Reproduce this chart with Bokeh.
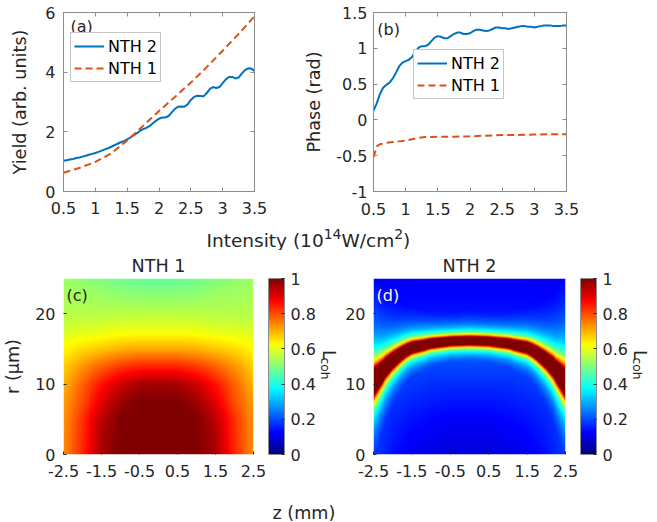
import numpy as np
from bokeh.plotting import figure
from bokeh.layouts import column, row
from bokeh.models import (Range1d, FixedTicker, LinearAxis, Legend, LegendItem, Label,
                          LinearColorMapper, ColorBar, Title)
from bokeh.core.properties import value
from bokeh.embed import file_html
from bokeh.resources import INLINE

FONT = "DejaVu Sans"
TXT = "#262626"
AX = "#8c8c8c"
BLUE = "#0072BD"
ORANGE = "#D95319"

# ---------------- data: panel (a) yield ----------------
A_X_NTH2 = [0.50, 0.55, 0.60, 0.65, 0.70, 0.75, 0.80, 0.85, 0.90, 0.95, 1.00, 1.05, 1.10, 1.15,
            1.20, 1.25, 1.30, 1.35, 1.40, 1.45, 1.50, 1.55, 1.60, 1.65, 1.70, 1.75, 1.80, 1.85,
            1.90, 1.95, 2.00, 2.05, 2.10, 2.15, 2.20, 2.25, 2.30, 2.35, 2.40, 2.45, 2.50, 2.55,
            2.60, 2.65, 2.70, 2.75, 2.80, 2.85, 2.90, 2.95, 3.00, 3.05, 3.10, 3.15, 3.20, 3.25,
            3.30, 3.35, 3.40, 3.45, 3.50]
A_Y_NTH2 = [1.03, 1.05, 1.07, 1.09, 1.12, 1.14, 1.17, 1.20, 1.23, 1.26, 1.29, 1.33, 1.37, 1.41,
            1.45, 1.50, 1.55, 1.60, 1.65, 1.69, 1.75, 1.81, 1.88, 1.95, 2.03, 2.09, 2.13, 2.19,
            2.28, 2.37, 2.44, 2.48, 2.48, 2.53, 2.65, 2.77, 2.84, 2.85, 2.84, 2.92, 3.07, 3.17,
            3.21, 3.20, 3.19, 3.30, 3.44, 3.50, 3.47, 3.50, 3.63, 3.76, 3.84, 3.84, 3.79, 3.82,
            3.95, 4.07, 4.13, 4.12, 4.04]
A_X_NTH1 = [0.5, 0.75, 1.0, 1.25, 1.5, 1.75, 2.0, 2.25, 2.5, 2.75, 3.0, 3.25, 3.5]
A_Y_NTH1 = [0.63, 0.79, 0.99, 1.28, 1.71, 2.20, 2.70, 3.17, 3.65, 4.17, 4.72, 5.28, 5.87]

# ---------------- data: panel (b) phase ----------------
B_X_NTH2 = A_X_NTH2
B_Y_NTH2 = [0.13, 0.23, 0.36, 0.45, 0.49, 0.52, 0.58, 0.66, 0.75, 0.80, 0.82, 0.84, 0.88, 0.95,
            1.01, 1.03, 1.03, 1.05, 1.10, 1.15, 1.17, 1.16, 1.14, 1.14, 1.17, 1.20, 1.22, 1.22,
            1.20, 1.20, 1.21, 1.24, 1.26, 1.26, 1.25, 1.24, 1.25, 1.27, 1.29, 1.29, 1.28, 1.28,
            1.27, 1.28, 1.29, 1.30, 1.31, 1.31, 1.30, 1.30, 1.29, 1.30, 1.31, 1.32, 1.32, 1.32,
            1.31, 1.31, 1.31, 1.32, 1.32]
B_X_NTH1 = [0.50, 0.55, 0.60, 0.70, 0.80, 0.90, 1.00, 1.10, 1.20, 1.30, 1.50, 1.75, 2.00, 2.25,
            2.50, 2.75, 3.00, 3.25, 3.50]
B_Y_NTH1 = [-0.52, -0.37, -0.34, -0.32, -0.31, -0.30, -0.29, -0.27, -0.25, -0.24, -0.235, -0.235,
            -0.23, -0.22, -0.21, -0.21, -0.205, -0.20, -0.20]

# ---------------- ticks ----------------
I_TICKS = [0.5, 1, 1.5, 2, 2.5, 3, 3.5]
I_LABELS = ["0.5", "1", "1.5", "2", "2.5", "3", "3.5"]
YIELD_TICKS = [0, 2, 4, 6]
YIELD_LABELS = ["0", "2", "4", "6"]
PHASE_TICKS = [-1, -0.5, 0, 0.5, 1, 1.5]
PHASE_LABELS = ["-1", "-0.5", "0", "0.5", "1", "1.5"]
Z_TICKS = [-2.5, -1.5, -0.5, 0.5, 1.5, 2.5]
Z_LABELS = ["-2.5", "-1.5", "-0.5", "0.5", "1.5", "2.5"]
R_TICKS = [0, 10, 20]
R_LABELS = ["0", "10", "20"]
CB_TICKS = [0, 0.2, 0.4, 0.6, 0.8, 1]
CB_LABELS = ["0", "0.2", "0.4", "0.6", "0.8", "1"]

# ---------------- data: maps (read on a grid, symmetric in z) ----------------
Z_ABS_NODES = [0.0, 0.5, 1.0, 1.5, 2.0, 2.5]
R_NODES = [0, 2.5, 5, 7.5, 10, 12.5, 15, 17.5, 20, 22.5, 25]
LCOH_NTH1 = [
    [1.00, 1.00, 1.00, 0.96, 0.84, 0.74],
    [1.00, 1.00, 1.00, 0.955, 0.835, 0.735],
    [1.00, 1.00, 1.00, 0.94, 0.83, 0.73],
    [1.00, 1.00, 0.97, 0.90, 0.80, 0.72],
    [0.965, 0.96, 0.92, 0.86, 0.78, 0.70],
    [0.84, 0.84, 0.82, 0.78, 0.73, 0.67],
    [0.71, 0.71, 0.70, 0.68, 0.66, 0.63],
    [0.61, 0.61, 0.61, 0.60, 0.595, 0.585],
    [0.56, 0.56, 0.56, 0.555, 0.555, 0.55],
    [0.515, 0.515, 0.52, 0.53, 0.535, 0.54],
    [0.47, 0.475, 0.485, 0.50, 0.515, 0.53],
]
# NTH 2: saturated band (centre and half thickness read vs |z|) over a low background
BAND_Z_ABS = [0.0, 0.5, 1.0, 1.5, 1.75, 2.0, 2.25, 2.5]
BAND_R = [16.2, 16.1, 15.8, 15.2, 14.5, 13.4, 12.0, 10.3]
BAND_HALF = [0.6, 0.6, 0.65, 0.78, 0.9, 1.1, 1.4, 1.9]
BG_R_NODES = [0, 5, 10, 15, 20, 25]
BG_NTH2 = [
    [0.09, 0.09, 0.10, 0.11, 0.14, 0.18],
    [0.12, 0.12, 0.13, 0.14, 0.16, 0.20],
    [0.17, 0.17, 0.17, 0.18, 0.19, 0.21],
    [0.22, 0.22, 0.22, 0.21, 0.18, 0.15],
    [0.14, 0.14, 0.14, 0.14, 0.13, 0.13],
    [0.12, 0.12, 0.12, 0.12, 0.12, 0.12],
]

NZ, NR = 201, 176
zs = np.linspace(-2.5, 2.5, NZ)
rs = np.linspace(0, 25, NR)


def grid_resample(table, r_nodes):
    g = np.array(table, dtype=float)
    tmp = np.array([np.interp(np.abs(zs), Z_ABS_NODES, rowv) for rowv in g])
    return np.array([np.interp(rs, r_nodes, tmp[:, j]) for j in range(NZ)]).T


img1 = grid_resample(LCOH_NTH1, R_NODES)
rc = np.interp(np.abs(zs), BAND_Z_ABS, BAND_R)
hw = np.interp(np.abs(zs), BAND_Z_ABS, BAND_HALF)
dist = np.abs(rs[:, None] - rc[None, :])
band = np.minimum(1.0, hw[None, :] / np.maximum(dist, 1e-6))
img2 = np.maximum(band, grid_resample(BG_NTH2, BG_R_NODES))


def jet(n=256):
    out = []
    for i in range(n):
        x = i / (n - 1)
        r = min(max(1.5 - abs(4 * x - 3), 0), 1)
        g = min(max(1.5 - abs(4 * x - 2), 0), 1)
        b = min(max(1.5 - abs(4 * x - 1), 0), 1)
        out.append("#%02x%02x%02x" % (round(r * 255), round(g * 255), round(b * 255)))
    return out


JET = jet(256)


def base_fig(w, h, xr, yr, left, right, top, bottom):
    p = figure(width=w, height=h, x_range=Range1d(*xr), y_range=Range1d(*yr),
               output_backend="svg", toolbar_location=None, title=None,
               min_border_left=left, min_border_right=right,
               min_border_top=top, min_border_bottom=bottom,
               background_fill_color="white", border_fill_color="white")
    p.grid.visible = False
    return p


def strip_fig(w, h):
    p = figure(width=w, height=h, x_range=Range1d(0, w), y_range=Range1d(h, 0),
               output_backend="svg", toolbar_location=None, title=None,
               x_axis_type=None, y_axis_type=None, min_border=0, outline_line_color=None,
               background_fill_color="white", border_fill_color="white")
    p.grid.visible = False
    return p


def style_axis(ax, ticks, labels, standoff, line_color=AX, tick_color=AX):
    ax.ticker = FixedTicker(ticks=ticks)
    ax.major_label_overrides = {t: l for t, l in zip(ticks, labels)}
    ax.major_label_text_font = FONT
    ax.major_label_text_font_size = "16px"
    ax.major_label_text_color = TXT
    ax.major_label_standoff = standoff
    ax.major_tick_in = 4
    ax.major_tick_out = 0
    ax.minor_tick_line_color = None
    ax.axis_line_color = line_color
    ax.major_tick_line_color = tick_color
    ax.axis_label_text_font = FONT
    ax.axis_label_text_font_size = "17.6px"
    ax.axis_label_text_font_style = "normal"
    ax.axis_label_text_color = TXT


def box_axis(p, side, ticks):
    ax = LinearAxis(ticker=FixedTicker(ticks=ticks), major_label_text_font_size="1px",
                    major_label_text_color=None,
                    major_tick_in=4, major_tick_out=0, minor_tick_line_color=None,
                    axis_line_color=AX, major_tick_line_color=AX, major_label_standoff=0)
    p.add_layout(ax, side)


def make_legend(p, rb, rr, loc):
    leg = Legend(items=[LegendItem(label="NTH 2", renderers=[rb]),
                        LegendItem(label="NTH 1", renderers=[rr])],
                 location=loc, orientation="vertical", padding=3, spacing=2, margin=0,
                 glyph_width=30, glyph_height=20, label_standoff=4, label_height=20,
                 label_text_font=FONT, label_text_font_size="16px", label_text_color="black",
                 border_line_color=AX, border_line_width=1, background_fill_color="white",
                 background_fill_alpha=1)
    p.add_layout(leg)


# ---------------- (a) ----------------
fa = base_fig(300, 220, (0.5, 3.5), (0, 6), 63, 46, 10, 29)
rb = fa.line(A_X_NTH2, A_Y_NTH2, line_color=BLUE, line_width=2)
rr = fa.line(A_X_NTH1, A_Y_NTH1, line_color=ORANGE, line_width=2, line_dash="7 4")
style_axis(fa.xaxis[0], I_TICKS, I_LABELS, 10)
style_axis(fa.yaxis[0], YIELD_TICKS, YIELD_LABELS, 8)
fa.yaxis[0].axis_label = "Yield (arb. units)"
fa.yaxis[0].axis_label_standoff = 12
box_axis(fa, "above", I_TICKS)
box_axis(fa, "right", YIELD_TICKS)
fa.outline_line_color = AX
make_legend(fa, rb, rr, (7, 109))
fa.add_layout(Label(x=0.61, y=5.86, text="(a)", text_baseline="top", text_font=FONT,
                    text_font_size="16px", text_color=TXT))

# ---------------- (b) ----------------
fb = base_fig(357, 220, (0.5, 3.5), (-1, 1.5), 73, 91, 12, 28)
rb2 = fb.line(B_X_NTH2, B_Y_NTH2, line_color=BLUE, line_width=2)
rr2 = fb.line(B_X_NTH1, B_Y_NTH1, line_color=ORANGE, line_width=2, line_dash="7 4")
style_axis(fb.xaxis[0], I_TICKS, I_LABELS, 11)
style_axis(fb.yaxis[0], PHASE_TICKS, PHASE_LABELS, 6)
fb.yaxis[0].axis_label = "Phase (rad)"
fb.yaxis[0].axis_label_standoff = 9
box_axis(fb, "above", I_TICKS)
box_axis(fb, "right", PHASE_TICKS)
fb.outline_line_color = AX
make_legend(fb, rb2, rr2, (40, 92))
fb.add_layout(Label(x=0.56, y=1.40, text="(b)", text_baseline="top", text_font=FONT,
                    text_font_size="16px", text_color=TXT))

# ---------------- shared intensity label strip ----------------
fs1 = strip_fig(657, 30)
F_MAIN, F_SUP = 18.5, 14.0
x0 = 206.0
pieces = [("Intensity (10", F_MAIN, 0.0, 6.333), ("14", F_SUP, -7.0, 1.272),
          ("W/cm", F_MAIN, 0.0, 2.85), ("2", F_SUP, -7.0, 0.636), (")", F_MAIN, 0.0, 0.39)]
for txt, fs, dy, em in pieces:
    fs1.text(x=[x0], y=[20 + dy], text=[txt], text_font=value(FONT),
             text_font_size=value("%.1fpx" % fs), text_color=TXT,
             text_baseline="alphabetic", text_align="left")
    x0 += em * fs

# ---------------- (c), (d) ----------------
mapper = LinearColorMapper(palette=JET, low=0, high=1)


def heat_fig(w, left, right, img, title, letter, letter_color):
    p = base_fig(w, 234, (-2.5, 2.5), (0, 25), left, right, 28, 30)
    p.image(image=[img], x=-2.5, y=0, dw=5, dh=25, color_mapper=mapper)
    style_axis(p.xaxis[0], Z_TICKS, Z_LABELS, 10, line_color=None, tick_color=TXT)
    style_axis(p.yaxis[0], R_TICKS, R_LABELS, 8, line_color=None, tick_color=TXT)
    p.xaxis[0].major_tick_in = 3
    p.yaxis[0].major_tick_in = 3
    p.outline_line_color = None
    cb = ColorBar(color_mapper=mapper, ticker=FixedTicker(ticks=CB_TICKS),
                  major_label_overrides={t: l for t, l in zip(CB_TICKS, CB_LABELS)},
                  width=16, height=176, location=(15, 0), padding=0, margin=0,
                  label_standoff=6, major_tick_in=3, major_tick_out=0,
                  major_tick_line_color=TXT, bar_line_color=AX,
                  major_label_text_font=FONT, major_label_text_font_size="16px",
                  major_label_text_color=TXT, border_line_color=None,
                  background_fill_color="white")
    p.add_layout(cb, "right")
    p.add_layout(Title(text=title, align="center", text_font=FONT, text_font_size="17.6px",
                       text_font_style="normal", text_color=TXT, standoff=6), "above")
    p.add_layout(Label(x=-2.42, y=24.0, text=letter, text_baseline="top", text_font=FONT,
                       text_font_size="16px", text_color=letter_color))
    return p


def lcoh_strip(w, x_l, x_coh):
    s = strip_fig(w, 234)
    # strip y: reference y minus 250
    s.text(x=[x_l], y=[345 - 250], text=["L"], angle=-np.pi / 2, text_font=value(FONT),
           text_font_size=value("17.6px"), text_color=TXT, text_baseline="alphabetic",
           text_align="left")
    s.text(x=[x_coh], y=[355 - 250], text=["coh"], angle=-np.pi / 2, text_font=value(FONT),
           text_font_size=value("12.3px"), text_color=TXT, text_baseline="alphabetic",
           text_align="left")
    return s


fc = heat_fig(318, 63, 64, img1, "NTH 1", "(c)", TXT)
fc.yaxis[0].axis_label = "r (µm)"
fc.yaxis[0].axis_label_standoff = 9
lc = lcoh_strip(23, 10, 6)
fd = heat_fig(289, 32, 64, img2, "NTH 2", "(d)", "white")
ld = lcoh_strip(27, 9, 6)

# ---------------- shared z label strip ----------------
fs2 = strip_fig(657, 38)
fs2.text(x=[272], y=[28], text=["z (mm)"], text_font=value(FONT), text_font_size=value("17.6px"),
         text_color=TXT, text_baseline="alphabetic", text_align="left")

layout = column(row(fa, fb), fs1, row(fc, lc, fd, ld), fs2)

with open("out.html", "w") as f:
    f.write(file_html(layout, INLINE))
